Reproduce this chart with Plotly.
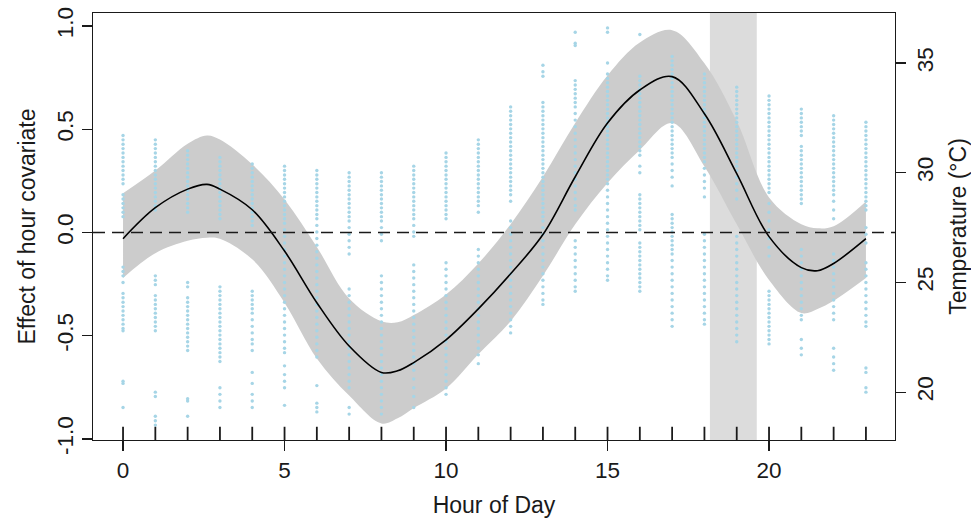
import plotly.graph_objects as go

# ---------------- data ----------------
hours = list(range(24))

# fitted smooth (effect of hour covariate) and its confidence band
hours_fit = [0, 1, 2, 2.6, 3, 4, 5, 6, 7, 8, 8.5, 9, 10, 11, 12, 13, 14, 15, 16, 17, 18, 19, 20, 21, 21.5, 22, 23]
effect = [-0.03, 0.12, 0.21, 0.233, 0.21, 0.11, -0.09, -0.34, -0.55, -0.678, -0.67, -0.63, -0.52, -0.37, -0.20, -0.01,
          0.27, 0.53, 0.69, 0.755, 0.575, 0.285, -0.02, -0.17, -0.185, -0.15, -0.03]
ci_upper = [0.19, 0.30, 0.43, 0.47, 0.45, 0.33, 0.16, -0.07, -0.32, -0.43, -0.435, -0.40, -0.30, -0.15, 0.04, 0.27,
            0.53, 0.76, 0.92, 0.98, 0.82, 0.54, 0.17, 0.04, 0.02, 0.03, 0.15]
ci_lower = [-0.22, -0.10, -0.04, -0.025, -0.03, -0.13, -0.34, -0.61, -0.79, -0.925, -0.90, -0.85, -0.755, -0.59, -0.43,
            -0.21, 0.04, 0.24, 0.40, 0.53, 0.32, 0.04, -0.23, -0.39, -0.37, -0.33, -0.22]

# shaded window (hours)
window_start = 18.17
window_end = 19.62

# observed temperatures (degC) at each hour
t_h00 = [31.7, 31.5, 31.3, 31.1, 30.9, 30.7, 30.5, 30.3, 30.1, 29.9, 29.7, 29.5, 29.0, 28.8, 28.6, 28.4, 28.2, 28.0,
         25.7, 25.5, 25.3, 25.0, 24.5, 24.3, 24.1, 23.9, 23.7, 23.5, 23.3, 23.1, 22.9, 22.8, 20.5, 20.4, 19.3]
t_h01 = [31.5, 31.3, 31.1, 30.9, 30.7, 30.5, 30.3, 30.1, 29.9, 29.7, 29.5, 29.3, 29.1, 28.9, 28.7, 28.5, 28.3,
         25.3, 25.1, 24.9, 24.4, 24.2, 24.0, 23.8, 23.6, 23.4, 23.2, 23.0, 22.8, 20.0, 19.8, 18.9, 18.7, 18.5]
t_h02 = [31.0, 30.8, 30.6, 30.4, 30.2, 30.0, 29.8, 29.6, 29.4, 29.2, 29.0, 28.8, 28.6, 28.4, 28.2, 25.0, 24.8,
         24.3, 24.1, 23.9, 23.7, 23.5, 23.3, 23.1, 22.9, 22.7, 22.5, 22.3, 22.1, 21.9, 19.7, 19.6, 18.9]
t_h03 = [30.7, 30.5, 30.3, 30.1, 29.9, 29.7, 29.5, 29.3, 29.1, 28.9, 28.7, 28.5, 28.3, 28.1, 27.9,
         24.8, 24.6, 24.4, 24.2, 24.0, 23.8, 23.6, 23.4, 23.2, 23.0, 22.8, 22.6, 22.4, 22.2, 22.0, 21.8, 21.6, 21.4,
         20.2, 19.9, 19.6, 19.3]
t_h04 = [30.4, 30.2, 30.0, 29.8, 29.6, 29.4, 29.2, 29.0, 28.8, 28.6, 28.4, 28.2, 28.0, 27.8, 27.6,
         24.6, 24.4, 24.2, 24.0, 23.8, 23.6, 23.3, 23.0, 22.7, 22.4, 22.2, 21.9, 20.9, 20.4, 19.9, 19.6, 19.3]
t_h05 = [30.3, 30.1, 29.9, 29.7, 29.5, 29.3, 29.1, 28.9, 28.7, 28.5, 28.3, 28.1, 27.9, 27.7, 27.4, 27.1, 26.8, 26.5,
         26.2, 25.9, 25.6, 25.3, 25.0, 24.7, 24.4, 24.1, 23.8, 23.5, 23.2, 22.9, 22.6, 22.3, 22.0, 21.8,
         21.2, 20.8, 20.5, 20.2, 19.4]
t_h06 = [30.1, 29.9, 29.7, 29.5, 29.3, 29.1, 28.9, 28.7, 28.5, 28.3, 28.1, 27.9, 27.6, 27.3, 27.0, 26.7, 26.4, 26.1,
         25.8, 25.5, 25.2, 24.9, 24.6, 24.3, 24.0, 23.7, 23.4, 23.1, 22.8, 22.5, 22.2, 21.9, 21.6, 20.3, 19.5, 19.3, 19.1]
t_h07 = [30.0, 29.8, 29.6, 29.4, 29.2, 29.0, 28.8, 28.6, 28.4, 28.2, 28.0, 27.8, 27.5, 27.2, 26.9, 26.6, 26.3,
         24.7, 24.4, 24.1, 23.8, 23.5, 23.2, 22.9, 22.6, 22.3, 22.0, 21.7, 21.4, 21.1, 20.8, 20.5, 20.2, 19.3, 19.0]
t_h08 = [30.0, 29.8, 29.6, 29.4, 29.2, 29.0, 28.8, 28.6, 28.4, 28.2, 28.0, 27.8, 27.5, 27.2, 26.9,
         25.3, 25.0, 24.7, 24.4, 24.1, 23.8, 23.5, 23.2, 22.9, 22.6, 22.3, 22.0, 21.7, 21.4, 21.1, 20.8, 20.5, 20.2,
         19.9, 19.6, 19.3, 19.0]
t_h09 = [30.3, 30.1, 29.9, 29.7, 29.5, 29.3, 29.1, 28.9, 28.7, 28.5, 28.3, 28.1, 27.9, 27.6, 27.3, 27.1,
         25.8, 25.5, 25.2, 24.9, 24.6, 24.3, 24.0, 23.7, 23.4, 23.1, 22.8, 22.5, 22.2, 21.9, 21.6, 21.3, 21.0, 20.6,
         20.2, 19.8, 19.3]
t_h10 = [30.9, 30.7, 30.5, 30.3, 30.1, 29.9, 29.7, 29.5, 29.3, 29.1, 28.9, 28.7, 28.5, 28.3, 28.1, 27.9,
         25.9, 25.6, 25.3, 25.0, 24.7, 24.4, 24.1, 23.8, 23.5, 23.2, 22.9, 22.6, 22.3, 22.0, 21.7, 21.4, 21.1, 20.8,
         20.5, 20.2, 19.9]
t_h11 = [31.5, 31.3, 31.1, 30.9, 30.7, 30.5, 30.3, 30.1, 29.9, 29.7, 29.5, 29.3, 29.1, 28.9, 28.7, 28.5, 28.2,
         26.5, 26.2, 25.9, 25.6, 25.3, 25.0, 24.7, 24.4, 24.1, 23.8, 23.5, 23.2, 22.9, 22.6, 22.3, 22.0, 21.7, 21.3]
t_h12 = [33.0, 32.8, 32.6, 32.4, 32.2, 32.0, 31.8, 31.6, 31.4, 31.2, 31.0, 30.8, 30.6, 30.4, 30.2, 30.0, 29.8, 29.6,
         29.4, 29.2, 29.0, 28.7, 27.8, 27.5, 27.2, 26.9, 26.6, 26.3, 26.0, 25.7, 25.4, 25.1, 24.8, 24.5, 24.2, 23.9,
         23.6, 23.3, 23.0, 22.7]
t_h13 = [34.9, 34.6, 34.4, 33.2, 33.0, 32.8, 32.6, 32.4, 32.2, 32.0, 31.8, 31.6, 31.4, 31.2, 31.0, 30.8, 30.6, 30.4,
         30.2, 30.0, 29.8, 29.6, 29.4, 29.2, 29.0, 28.8, 28.6, 28.4, 28.2, 28.0, 27.8, 27.5, 27.2, 26.9, 26.6, 26.3,
         26.0, 25.7, 25.4, 25.1, 24.8, 24.5, 24.2, 24.0]
t_h14 = [36.4, 35.9, 35.8, 34.2, 34.0, 33.8, 33.6, 33.4, 33.2, 33.0, 32.7, 32.4, 32.1, 31.8, 31.5, 31.2, 30.9, 30.6,
         30.3, 30.0, 29.7, 29.4, 29.1, 28.8, 28.5, 28.3, 26.9, 26.6, 26.3, 26.0, 25.7, 25.4, 25.1, 24.8, 24.6]
t_h15 = [36.6, 36.4, 35.0, 34.5, 34.3, 34.1, 33.9, 33.7, 33.5, 33.3, 33.1, 32.9, 32.7, 32.5, 32.3, 32.1, 31.9, 31.7,
         31.5, 31.3, 31.1, 30.9, 30.7, 30.5, 30.3, 30.1, 29.9, 29.7, 29.5, 29.2, 28.9, 28.6, 28.3, 28.0, 27.7, 27.4,
         27.1, 26.8, 26.5, 26.2, 25.9, 25.6, 25.3, 25.1]
t_h16 = [36.3, 34.4, 34.2, 34.0, 33.8, 33.6, 33.4, 33.2, 33.0, 32.8, 32.6, 32.4, 32.2, 32.0, 31.8, 31.6, 31.4, 31.2,
         31.0, 30.8, 30.3, 30.0, 29.0, 28.8, 28.6, 28.4, 28.2, 28.0, 27.8, 27.6, 27.4, 26.8, 26.6, 26.4, 26.2, 26.0,
         25.8, 25.6, 25.4, 25.2, 25.0, 24.8, 24.6]
t_h17 = [35.3, 35.1, 34.9, 34.7, 34.5, 34.3, 34.1, 33.9, 33.7, 33.5, 33.3, 33.1, 32.9, 32.7, 32.5, 32.3, 32.1, 31.9,
         31.7, 31.5, 31.3, 31.1, 30.9, 30.7, 30.4, 30.1, 29.8, 29.4, 28.1, 27.9, 27.7, 27.5, 27.3, 27.1, 26.9, 26.7,
         26.5, 26.3, 26.0, 25.7, 25.4, 25.1, 24.8, 24.5, 24.2, 23.9, 23.6, 23.3, 23.0]
t_h18 = [34.5, 34.3, 34.1, 33.9, 33.7, 33.5, 33.3, 33.1, 32.9, 32.7, 32.5, 32.3, 32.1, 31.9, 31.7, 31.5, 31.3, 31.1,
         30.9, 30.7, 30.5, 30.2, 29.9, 29.6, 29.3, 28.9, 27.2, 26.9, 26.6, 26.3, 26.0, 25.7, 25.4, 25.1, 24.8, 24.5,
         24.2, 23.9, 23.6, 23.3, 23.1]
t_h19 = [33.9, 33.7, 33.5, 33.3, 33.1, 32.9, 32.7, 32.5, 32.3, 32.1, 31.9, 31.7, 31.5, 31.3, 31.1, 30.9, 30.7, 30.5,
         30.3, 30.1, 29.8, 29.5, 29.2, 28.8, 27.1, 26.8, 26.5, 26.2, 25.9, 25.6, 25.3, 25.0, 24.7, 24.4, 24.1, 23.8,
         23.5, 23.2, 22.9, 22.6, 22.3]
t_h20 = [33.5, 33.3, 33.1, 32.9, 32.7, 32.5, 32.3, 32.1, 31.9, 31.7, 31.5, 31.3, 31.1, 30.9, 30.7, 30.5, 30.3, 30.1,
         29.9, 29.7, 29.5, 29.3, 29.1, 28.6, 28.2, 27.8, 27.4, 27.0, 26.6, 26.2, 24.6, 24.4, 24.2, 24.0, 23.8, 23.6,
         23.4, 23.2, 23.0, 22.8, 22.6, 22.4, 22.2]
t_h21 = [32.9, 32.7, 32.5, 32.3, 32.1, 31.9, 31.7, 31.2, 31.0, 30.8, 30.6, 30.4, 30.2, 30.0, 29.8, 29.6, 29.4, 29.2,
         29.0, 28.8, 28.6, 26.5, 26.2, 25.9, 25.6, 25.3, 25.0, 24.7, 24.4, 24.1, 23.8, 23.5, 23.3, 22.4, 22.0, 21.7]
t_h22 = [32.6, 32.4, 32.2, 32.0, 31.8, 31.6, 31.4, 31.2, 31.0, 30.8, 30.6, 30.4, 30.2, 30.0, 29.8, 29.6, 29.4, 29.2,
         29.0, 28.7, 28.3, 27.9, 26.3, 26.0, 25.7, 25.4, 25.1, 24.8, 24.5, 24.2, 23.9, 23.6, 23.3, 22.0, 21.6, 21.3, 21.0]
t_h23 = [32.3, 32.1, 31.9, 31.7, 31.5, 31.3, 31.1, 30.9, 30.7, 30.5, 30.3, 30.1, 29.9, 29.7, 29.5, 29.3, 29.1, 28.9,
         28.7, 28.5, 28.3, 27.5, 27.2, 26.8, 25.9, 25.6, 25.3, 25.0, 24.7, 24.4, 24.1, 23.8, 23.5, 23.2, 23.0,
         21.1, 20.9, 20.2, 20.0]

temps_by_hour = [t_h00, t_h01, t_h02, t_h03, t_h04, t_h05, t_h06, t_h07, t_h08, t_h09, t_h10, t_h11,
                 t_h12, t_h13, t_h14, t_h15, t_h16, t_h17, t_h18, t_h19, t_h20, t_h21, t_h22, t_h23]

x_ticks = [0, 5, 10, 15, 20]
y_ticks = [-1.0, -0.5, 0.0, 0.5, 1.0]
y_ticktext = ["-1.0", "-0.5", "0.0", "0.5", "1.0"]
t_ticks = [20, 25, 30, 35]

# ---------------- figure ----------------
INK = "#1a1a1a"
FONT_FAMILY = "Liberation Sans, Arial, sans-serif"
TITLE_FONT = dict(family=FONT_FAMILY, size=23, color=INK)
fig = go.Figure()

# confidence band
fig.add_trace(go.Scatter(x=hours_fit, y=ci_lower, mode="lines", line=dict(width=0, shape="spline", color="#cccccc"),
                         hoverinfo="skip", yaxis="y"))
fig.add_trace(go.Scatter(x=hours_fit, y=ci_upper, mode="lines", line=dict(width=0, shape="spline", color="#cccccc"),
                         fill="tonexty", fillcolor="#cccccc", hoverinfo="skip", yaxis="y"))

# temperature observations (right axis)
obs_x, obs_y = [], []
for h, vals in zip(hours, temps_by_hour):
    obs_x += [h] * len(vals)
    obs_y += vals
fig.add_trace(go.Scatter(x=obs_x, y=obs_y, mode="markers", yaxis="y2",
                         marker=dict(size=3.4, color="#a6d5e6", line=dict(width=0))))

# smooth effect line (drawn on a hidden overlay axis so it sits above the dots)
fig.add_trace(go.Scatter(x=hours_fit, y=effect, mode="lines", yaxis="y3",
                         line=dict(color="black", width=1.6, shape="spline")))

shapes = [
    dict(type="rect", xref="x", yref="paper", x0=window_start, x1=window_end, y0=0, y1=1,
         fillcolor="#dcdcdc", line=dict(width=0), layer="below"),
    dict(type="line", xref="paper", yref="y", x0=0, x1=1, y0=0, y1=0,
         line=dict(color=INK, width=1.3, dash="12px,7px"), layer="above"),
]
for h in hours:
    shapes.append(dict(type="line", xref="x", yref="paper", x0=h, x1=h, y0=0, y1=0.031,
                       line=dict(color=INK, width=1.8), layer="above"))

yr = [-1.005, 1.063]
fig.update_layout(
    width=971, height=518,
    margin=dict(l=93, r=76, t=13, b=78),
    plot_bgcolor="white", paper_bgcolor="white",
    showlegend=False,
    font=dict(family=FONT_FAMILY, size=22.5, color=INK),
    shapes=shapes,
    xaxis=dict(range=[-0.93, 23.9], tickvals=x_ticks, ticks="outside", ticklen=10, tickwidth=1.3,
               tickcolor=INK, showline=True, linecolor=INK, linewidth=1.3, mirror=True,
               showgrid=False, zeroline=False, automargin=False,
               title=dict(text="Hour of Day", standoff=14, font=TITLE_FONT)),
    yaxis=dict(range=yr, tickvals=y_ticks, ticktext=y_ticktext, tickangle=-90,
               ticks="outside", ticklen=10, tickwidth=1.3, tickcolor=INK,
               showline=True, linecolor=INK, linewidth=1.3, mirror=True,
               showgrid=False, zeroline=False, automargin=False,
               title=dict(text="Effect of hour covariate", standoff=10, font=TITLE_FONT)),
    yaxis2=dict(range=[17.82, 37.28], overlaying="y", side="right", tickvals=t_ticks, tickangle=-90,
                ticks="outside", ticklen=10, tickwidth=1.3, tickcolor=INK,
                showline=False, showgrid=False, zeroline=False, automargin=False,
                title=dict(text="Temperature (°C)", standoff=17, font=TITLE_FONT)),
    yaxis3=dict(range=yr, overlaying="y", visible=False, showgrid=False, zeroline=False),
)

fig.write_html(
    "out.html",
    config={"displayModeBar": False, "staticPlot": True},
    post_script="document.documentElement.style.margin='0';document.body.style.margin='0';"
                "document.body.style.padding='0';document.body.style.overflow='hidden';",
)
